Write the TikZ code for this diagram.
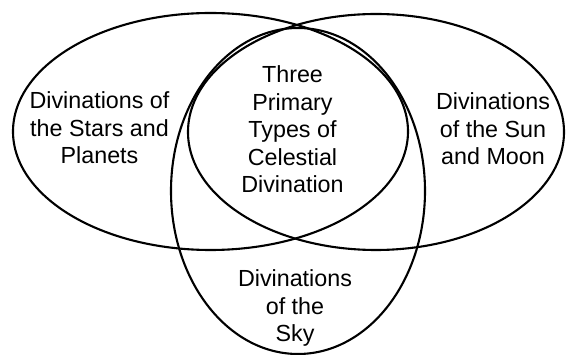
\documentclass[tikz,border=0pt]{standalone}
\usepackage{fontspec}
\setmainfont{Liberation Sans}
\begin{document}
\begin{tikzpicture}[x=1pt,y=-1pt,
  ring/.style={draw=black,line width=2.1pt},
  lbl/.style={align=center,inner sep=0pt,anchor=base,font=\fontsize{23.3}{27.5}\selectfont}]
\useasboundingbox (0,0) rectangle (566,355);
% circles
\draw[ring] (210.5,131.5) ellipse [x radius=197.5, y radius=118.5];
\draw[ring] (376,132) ellipse [x radius=188, y radius=118];
\draw[ring] (298,191) ellipse [x radius=127, y radius=163];
% labels (anchor = baseline of the last line)
\node[lbl] (stars) at (99.5,164) {Divinations of\\the Stars and\\Planets};
\node[lbl] (core) at (292.5,193) {Three\\Primary\\Types of\\Celestial\\Divination};
\node[lbl] (sun) at (493,165) {Divinations\\of the Sun\\and Moon};
\node[lbl] (sky) at (295,342) {Divinations\\of the\\Sky};
\end{tikzpicture}
\end{document}
